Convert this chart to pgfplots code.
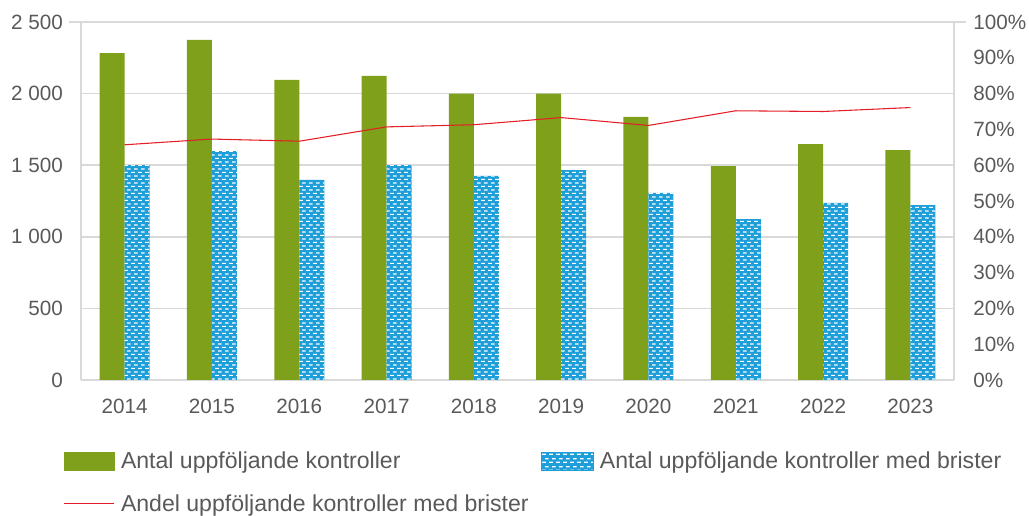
\documentclass[border=0pt]{standalone}
\usepackage{fontspec}
\setmainfont{Liberation Sans}
\usepackage{pgfplots}
\pgfplotsset{compat=1.18}
\usetikzlibrary{patterns}
\definecolor{barGreen}{RGB}{127,160,26}
\definecolor{barBlue}{RGB}{31,159,217}
\definecolor{lineRed}{RGB}{228,30,38}
\definecolor{gridGray}{RGB}{217,217,217}
\definecolor{txtGray}{RGB}{89,89,89}
\pgfdeclarepatternformonly{dashbrick}{\pgfqpoint{0pt}{0pt}}{\pgfqpoint{5.5pt}{5.5pt}}{\pgfqpoint{5.5pt}{5.5pt}}{%
  \pgfpathrectangle{\pgfqpoint{0.2pt}{0.9pt}}{\pgfqpoint{3.0pt}{0.9pt}}%
  \pgfpathrectangle{\pgfqpoint{2.5pt}{3.65pt}}{\pgfqpoint{2.9pt}{0.9pt}}%
  \pgfusepath{fill}%
}
\pgfplotstableread{
x green blue andel
0 2283 1501 65.7
1 2376 1599 67.3
2 2095 1397 66.7
3 2123 1501 70.7
4 2000 1425 71.3
5 2000 1466 73.3
6 1837 1306 71.1
7 1494 1124 75.2
8 1648 1236 75.0
9 1606 1222 76.1
}\datatable
\begin{document}
\begin{tikzpicture}[font=\fontsize{15.5pt}{18pt}\selectfont, text=txtGray]
\useasboundingbox (-60.75pt,-102pt) rectangle (711pt,285pt);
\begin{axis}[
  at={(0,0)}, anchor=south west,
  scale only axis, width=654.75pt, height=268.5pt,
  xmin=-0.5, xmax=9.5, ymin=0, ymax=2500,
  xtick={0,...,9},
  xticklabels={2014,2015,2016,2017,2018,2019,2020,2021,2022,2023},
  ytick={0,500,...,2500},
  axis x line*=bottom, axis y line*=left,
  x axis line style={draw=gridGray, line width=1.2pt, -},
  y axis line style={draw=gridGray, line width=0.8pt, -},
  ymajorgrids, grid style={draw=gridGray, line width=1.2pt},
  major tick length=0pt,
  ytick style={draw=gridGray, line width=0.8pt},
  extra y ticks={2500}, extra y tick labels={},
  extra y tick style={major tick length=9pt, tick align=outside, grid=none},
  yticklabel style={xshift=-10pt},
  xticklabel style={yshift=-11pt},
  /pgf/number format/assume math mode=true,
  /pgf/number format/1000 sep={\ },
  ybar=0pt, bar width=18.75pt,
  enlarge x limits=false,
]
\addplot[fill=barGreen, draw=none] table[x=x, y=green] {\datatable};
\addplot[fill=barBlue, draw=none, postaction={pattern=dashbrick, pattern color=white}] table[x=x, y=blue] {\datatable};
\end{axis}
\begin{axis}[
  at={(0,0)}, anchor=south west,
  scale only axis, width=654.75pt, height=268.5pt,
  xmin=-0.5, xmax=9.5, ymin=0, ymax=100,
  axis x line=none, axis y line*=right,
  y axis line style={draw=gridGray, line width=0.8pt, -},
  ytick={0,10,...,100},
  yticklabel={\pgfmathprintnumber{\tick}\%},
  major tick length=0pt,
  extra y ticks={100}, extra y tick labels={},
  extra y tick style={major tick length=9pt, tick align=outside, ytick style={draw=gridGray, line width=0.8pt}},
  yticklabel style={xshift=11pt},
  /pgf/number format/assume math mode=true,
  legend columns=2,
  legend cell align=left,
  legend style={draw=none, fill=none, at={(0,0)}, anchor=north west, xshift=-13.5pt, yshift=-52pt,
    font=\fontsize{17.3pt}{20pt}\selectfont, inner sep=0pt,
    /tikz/every odd column/.append style={column sep=3pt},
    /tikz/column 2/.style={column sep=7pt},
    row sep=13.5pt},
]
\addlegendimage{legend image code/.code={\fill[barGreen] (0pt,-6.75pt) rectangle (37.5pt,6.75pt);}}
\addlegendentry{Antal uppföljande kontroller}
\addlegendimage{legend image code/.code={\fill[barBlue, postaction={pattern=dashbrick, pattern color=white}] (0pt,-6.75pt) rectangle (39pt,6.75pt);}}
\addlegendentry{Antal uppföljande kontroller med brister}
\addplot[lineRed, line width=0.8pt, mark=none, legend image code/.code={\draw[lineRed, line width=0.8pt] (0pt,0pt) -- (37.5pt,0pt);}] table[x=x, y=andel] {\datatable};
\addlegendentry{Andel uppföljande kontroller med brister}
\end{axis}
\end{tikzpicture}
\end{document}
